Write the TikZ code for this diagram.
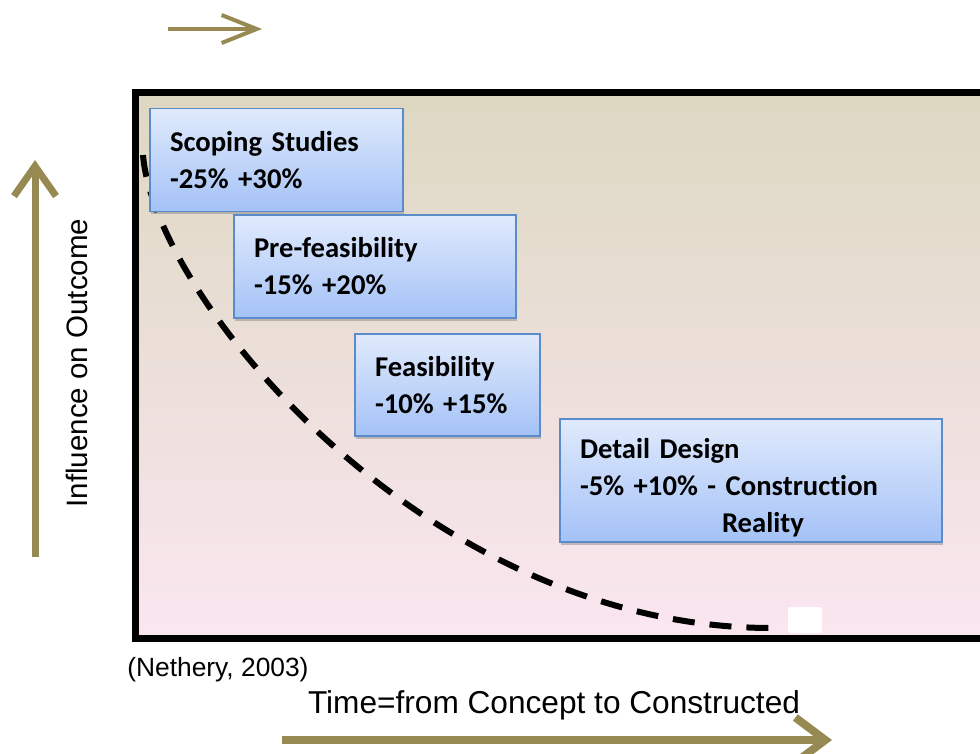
\documentclass[tikz,border=0pt]{standalone}
\usepackage{fontspec}
\setmainfont{Liberation Sans}
\newfontfamily\stagefont[Ligatures=NoCommon]{Carlito}
\usetikzlibrary{arrows.meta,shadows}

\definecolor{arrowgold}{RGB}{150,138,82}
\definecolor{plottop}{RGB}{221,216,194}
\definecolor{plotbot}{RGB}{250,230,240}
\definecolor{stagetop}{RGB}{224,234,252}
\definecolor{stagebot}{RGB}{164,194,247}
\definecolor{stageline}{RGB}{91,139,201}

\tikzset{
  stage/.style={draw=stageline, line width=0.7pt, top color=stagetop, bottom color=stagebot,
    drop shadow={shadow xshift=0.8pt, shadow yshift=-1.5pt, opacity=0.45},
    inner xsep=4mm, inner ysep=0pt, align=left, anchor=center,
    font=\stagefont\bfseries\fontsize{16.3}{21}\selectfont},
  trend/.style={line width=1.2mm, dash pattern=on 4.4mm off 3mm},
  axisarrow/.style={arrowgold, line cap=butt}
}

\begin{document}
\begin{tikzpicture}[x=0.2mm, y=-0.2mm]
    \useasboundingbox (0,0) rectangle (980,753);
    \clip (0,0) rectangle (980,753);

    % plot area
    \draw[line width=1.4mm, top color=plottop, bottom color=plotbot] (135,93) rectangle (1010,638);

    % trend line under the boxes
    \coordinate (c0) at (143,155);
    \coordinate (c1) at (775,628);
    \draw[trend] (c0) .. controls (155,300) and (430,630) .. (c1);

    % stages
    \node[stage, text width=42.6mm, minimum height=20.6mm] (scoping) at (276.5,160)
        {Scoping Studies\\-25\% +30\%};
    \node[stage, text width=48.4mm, minimum height=20.6mm] (prefeas) at (375,266.5)
        {Pre-feasibility\\-15\% +20\%};
    \node[stage, text width=29mm, minimum height=20.4mm] (feas) at (447.5,385)
        {Feasibility\\-10\% +15\%};
    \node[stage, text width=68.4mm, minimum height=24.6mm] (detail) at (751,480.5)
        {\rule{0pt}{7mm}Detail Design\\-5\% +10\% - Construction\\\hspace*{28.4mm}Reality};

    \node[fill=white, rounded corners=1pt, minimum width=6.8mm, minimum height=5.2mm, inner sep=0] (tag) at (805,620) {};

    % axes
    \coordinate (t0) at (168,29);
    \coordinate (t1) at (262,29);
    \draw[axisarrow, line width=0.8mm, -{Straight Barb[length=7mm, width=5.6mm]}] (t0) -- (t1);

    \coordinate (y0) at (35,557);
    \coordinate (y1) at (35,160);
    \draw[axisarrow, line width=1.4mm, -{Straight Barb[length=6mm, width=8.4mm]}] (y0) -- (y1);

    \coordinate (x0) at (282,740);
    \coordinate (x1) at (832,740);
    \draw[axisarrow, line width=1.6mm, -{Straight Barb[length=6mm, width=9mm]}] (x0) -- (x1);

    \node[rotate=90, font=\fontsize{16.8}{19}\selectfont] (yname) at (77,363) {Influence on Outcome};
    \node[font=\fontsize{18}{21}\selectfont] (xname) at (554,705) {Time=from Concept to Constructed};
    \node[anchor=west, inner sep=0, font=\fontsize{15}{17}\selectfont] (source) at (127,670) {(Nethery, 2003)};
\end{tikzpicture}
\end{document}
